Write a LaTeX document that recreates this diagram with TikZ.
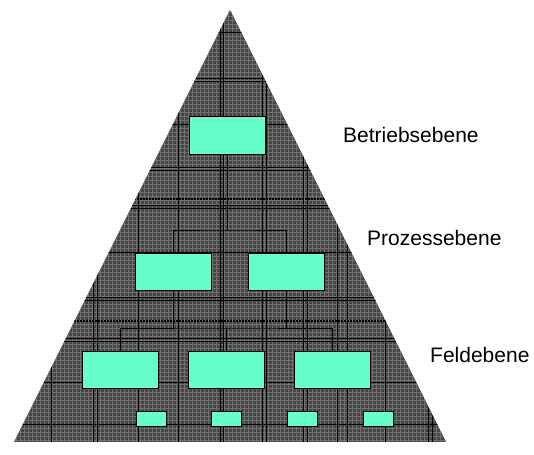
\documentclass[tikz,border=0pt]{standalone}
\usepackage{fontspec}
\setmainfont{Liberation Sans}
\usetikzlibrary{positioning,calc}
\definecolor{mint}{RGB}{102,255,204}
\definecolor{plaid}{RGB}{70,70,70}
\definecolor{plaidlight}{RGB}{112,112,112}
\tikzset{
  unit/.style={draw,fill=mint,line width=0.9pt,inner sep=0pt,minimum width=76pt,minimum height=37.5pt},
  sensor/.style={unit,minimum width=30pt,minimum height=15pt},
  level/.style={anchor=west,inner sep=0pt,font=\fontsize{21}{25}\selectfont},
  link/.style={line width=0.8pt},
  sep/.style={line width=1.6pt,dash pattern=on 1.5pt off 1.5pt}
}

\begin{document}
\begin{tikzpicture}[x=1pt,y=-1pt]
  \useasboundingbox (0,0) rectangle (534,454);
  \coordinate (apex) at (230,10);
  \coordinate (bl) at (14,442);
  \coordinate (br) at (446,442);
  \begin{scope}
    \clip (apex) -- (bl) -- (br) -- cycle;
    \fill[plaid] (14,10) rectangle (446,442);
    \foreach \x in {16,20,...,446} \draw[plaidlight,line width=0.55pt] (\x,10) -- (\x,442);
    \foreach \y in {12,16,...,442} \draw[plaidlight,line width=0.55pt] (14,\y) -- (446,\y);
    \foreach \x in {51,93,97,138,178,220,223,262,266,303,307,337,347,385,428,432}
      \draw[black,line width=0.9pt] (\x,10) -- (\x,442);
    \foreach \y in {32,78,81,124,167,170,205,208,252,297,300,338,341,382,424}
      \draw[black,line width=0.9pt] (14,\y) -- (446,\y);
    \draw[sep] (14,199) -- (446,199);
    \draw[sep] (14,321) -- (446,321);
  \end{scope}

  \node[unit] (top) at (227,135.5) {};
  \node[unit] (p1) at (173,272) {};
  \node[unit] (p2) at (286.5,272) {};
  \node[unit] (f1) at (120.5,370) {};
  \node[unit] (f2) at (226,370) {};
  \node[unit] (f3) at (332,370) {};
  \node[sensor] (s1) at (151,418.5) {};
  \node[sensor] (s2) at (226.5,418.5) {};
  \node[sensor] (s3) at (302,418.5) {};
  \node[sensor] (s4) at (378,418.5) {};

  \coordinate (j1) at (227,230);
  \coordinate (j2) at (226,328);
  \draw[link] (top.south) -- (j1);
  \draw[link] (p1.north) |- (j1) -| (p2.north);
  \draw[link] (p1.south) -- (p1.south |- j2);
  \draw[link] (p2.south) -- (p2.south |- j2);
  \draw[link] (f1.north) |- (j2) -| (f3.north);
  \draw[link] (f2.north) -- (j2);

  \node[level] (lb) at (343,135) {Betriebsebene};
  \node[level] (lp) at (367,238) {Prozessebene};
  \node[level] (lf) at (430,355) {Feldebene};
\end{tikzpicture}
\end{document}
